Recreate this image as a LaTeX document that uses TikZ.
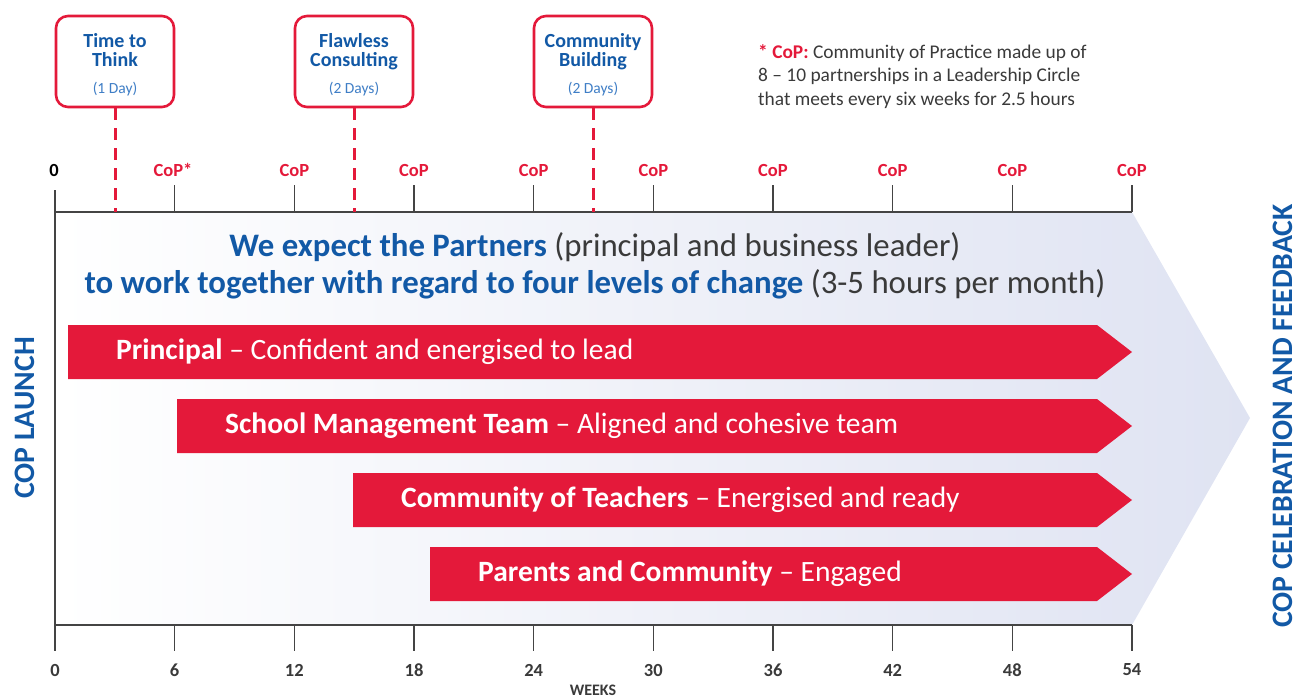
\documentclass[tikz,border=0pt]{standalone}
\usepackage{fontspec}
\setmainfont{Carlito}
\usetikzlibrary{positioning}
\definecolor{copred}{HTML}{E4193A}
\definecolor{copblue}{HTML}{1259A6}
\definecolor{daysblue}{HTML}{3F7EC6}
\definecolor{copgray}{HTML}{3A3A3A}
\definecolor{copaxis}{HTML}{444444}
\definecolor{coplavender}{HTML}{DFE3F2}

\begin{document}
\begin{tikzpicture}[x=1pt, y=-1pt,
  phasebox/.style={rectangle, draw=copred, line width=2.6pt, rounded corners=12pt, fill=white,
    minimum width=118pt, minimum height=91pt},
  phasetext/.style={align=center, text=copblue, inner sep=0pt, font=\fontsize{20}{19}\selectfont\bfseries},
  ticklabel/.style={font=\fontsize{18.5}{20}\selectfont\bfseries},
  leveltext/.style={anchor=west, inner sep=0pt, text=white, font=\fontsize{29.5}{32}\selectfont},
  sidetext/.style={rotate=90, text=copblue, font=\fontsize{29.7}{32}\selectfont\bfseries}]

\useasboundingbox (0,0) rectangle (1305,699);

% background arrow
\shade[left color=white, right color=coplavender] (55,212) -- (1132,212) -- (1250,418) -- (1132,625) -- (55,625) -- cycle;

% week axes
\draw[copaxis, line width=1.3pt] (55,212) -- (1132,212);
\draw[copaxis, line width=1.3pt] (55,625) -- (1132,625);
\draw[copaxis, line width=1.3pt] (55,190) -- (55,651);
\foreach \w in {6,12,...,54} {
  \draw[copaxis, line width=1.2pt] ({55+\w*19.944},185) -- ++(0,27);
  \draw[copaxis, line width=1.2pt] ({55+\w*19.944},625) -- ++(0,26);
}
\foreach \w in {0,6,...,54}
  \node[ticklabel, text=copgray] (wk\w) at ({55+\w*19.944},670) {\w};
\foreach \w in {12,18,...,54}
  \node[ticklabel, text=copred] (cop\w) at ({55+\w*19.944},170) {CoP};
\node[ticklabel, text=copred] (cop6) at (173,170) {CoP*};
\node[ticklabel, text=black] (start) at (54,170) {0};
\node[font=\fontsize{16}{18}\selectfont\bfseries, text=copgray, inner sep=1pt] (weeks) at (593,690) {WEEKS};

% phases
\node[phasebox] (think) at (115,61.5) {};
\node[phasebox] (flawless) at (354,61.5) {};
\node[phasebox] (building) at (593,61.5) {};
\node[phasetext] (thinktext) at ([yshift=-3.5pt]think.center)
  {Time to\\Think\\[8pt]{\fontsize{15.5}{16}\selectfont\mdseries\color{daysblue}(1 Day)}};
\node[phasetext] (flawlesstext) at ([yshift=-3.5pt]flawless.center)
  {Flawless\\Consulting\\[8pt]{\fontsize{15.5}{16}\selectfont\mdseries\color{daysblue}(2 Days)}};
\node[phasetext] (buildingtext) at ([yshift=-3.5pt]building.center)
  {Community\\Building\\[8pt]{\fontsize{15.5}{16}\selectfont\mdseries\color{daysblue}(2 Days)}};
\coordinate (thinkaxis) at (115,212);
\coordinate (flawlessaxis) at (354,212);
\coordinate (buildingaxis) at (593,212);
\foreach \p in {think,flawless,building}
  \draw[copred, line width=3pt, dash pattern=on 12pt off 8pt] (\p.south) -- (\p axis);

% note
\node[anchor=north west, inner sep=0pt, align=left, text=copgray, font=\fontsize{19.4}{23.5}\selectfont] (note) at (758,44)
  {\textcolor{copred}{\textbf{* CoP:}} Community of Practice made up of\\8 – 10 partnerships in a Leadership Circle\\that meets every six weeks for 2.5 hours};

% heading
\node[align=center, text=copgray, font=\fontsize{32.8}{37}\selectfont] (expect) at (595,266)
  {\textcolor{copblue}{\textbf{We expect the Partners}} (principal and business leader)\\
   \textcolor{copblue}{\textbf{to work together with regard to four levels of change}} (3-5 hours per month)};

% levels of change
\foreach \xs/\yt/\who/\what [count=\i] in {68/325/Principal/Confident and energised to lead,
    177/399/School Management Team/Aligned and cohesive team,
    353/473/Community of Teachers/Energised and ready,
    430/547/Parents and Community/Engaged} {
  \fill[copred] (\xs,\yt) -- (1097,\yt) -- (1132,\yt+27) -- (1097,\yt+54) -- (\xs,\yt+54) -- cycle;
  \node[leveltext] (level\i) at (\xs+48,\yt+27) {\textbf{\who} – \what};
}

% side labels
\node[sidetext] (launch) at (25,418) {COP LAUNCH};
\node[sidetext] (feedback) at (1283,416) {COP CELEBRATION AND FEEDBACK};
\end{tikzpicture}
\end{document}
